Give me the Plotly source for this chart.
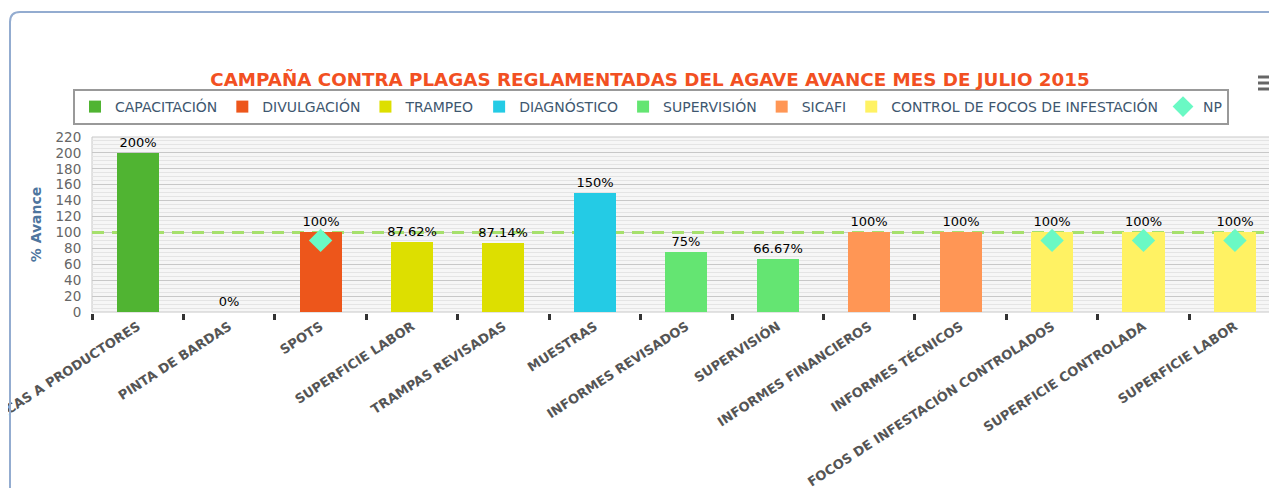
import plotly.graph_objects as go

categories = [
    "PLATICAS A PRODUCTORES", "PINTA DE BARDAS", "SPOTS", "SUPERFICIE LABOR",
    "TRAMPAS REVISADAS", "MUESTRAS", "INFORMES REVISADOS", "SUPERVISIÓN",
    "INFORMES FINANCIEROS", "INFORMES TÉCNICOS", "FOCOS DE INFESTACIÓN CONTROLADOS",
    "SUPERFICIE CONTROLADA", "SUPERFICIE LABOR",
]
values = [200, 0, 100, 87.62, 87.14, 150, 75, 66.67, 100, 100, 100, 100, 100]
groups = [
    "CAPACITACIÓN", "DIVULGACIÓN", "DIVULGACIÓN", "TRAMPEO", "TRAMPEO",
    "DIAGNÓSTICO", "SUPERVISIÓN", "SUPERVISIÓN", "SICAFI", "SICAFI",
    "CONTROL DE FOCOS DE INFESTACIÓN", "CONTROL DE FOCOS DE INFESTACIÓN",
    "CONTROL DE FOCOS DE INFESTACIÓN",
]
group_names = ["CAPACITACIÓN", "DIVULGACIÓN", "TRAMPEO", "DIAGNÓSTICO",
               "SUPERVISIÓN", "SICAFI", "CONTROL DE FOCOS DE INFESTACIÓN"]
group_colors = ["#50B432", "#ED561B", "#DDDF00", "#24CBE5", "#64E572", "#FF9655", "#FFF263"]
np_values = [None, None, 90, None, None, None, None, None, None, None, 90, 90, 90]
target = 100
y_ticks = list(range(0, 221, 20))

FONT = "DejaVu Sans, Verdana, sans-serif"
x_range = [-0.5, len(categories) - 0.54]
fig = go.Figure()

# 100% target plot line, drawn beneath bars and their labels
fig.add_trace(go.Scatter(
    x=x_range, y=[target, target], mode="lines", showlegend=False, hoverinfo="skip",
    line=dict(color="#A6E06C", width=3, dash="12px,8px"), zorder=-1,
))

for name, color in zip(group_names, group_colors):
    idx = [i for i, g in enumerate(groups) if g == name]
    fig.add_trace(go.Bar(
        x=idx, y=[values[i] for i in idx], name=name,
        marker=dict(color=color, line=dict(width=0)),
        width=0.46,
        text=[f"{values[i]:g}%" for i in idx],
        textposition="outside", cliponaxis=False, constraintext="none",
        textfont=dict(family=FONT, size=13, color="#000000"),
    ))

np_idx = [i for i, v in enumerate(np_values) if v is not None]
fig.add_trace(go.Scatter(
    x=np_idx, y=[np_values[i] for i in np_idx], name="NP", mode="markers",
    marker=dict(symbol="diamond", size=18, color="#6AF9C4"),
    cliponaxis=False,
))

# page has an 8px body margin: figure = window minus 8px
OFF = 8
W, H = 1277 - OFF, 488 - OFF
# plot area in window pixels
L, R, T, B = 92, 1277, 137, 312
fx = lambda px: (px - L) / (R - L)
fy = lambda py: (B - py) / (B - T)

shapes = [
    dict(type="rect", xref="paper", yref="paper", x0=0, x1=1, y0=0, y1=1,
         line=dict(color="#c8c8c8", width=1), layer="below"),
    dict(type="path", xref="paper", yref="paper",
         path=f"M{fx(10)},{fy(520)} L{fx(10)},{fy(22)} Q{fx(10)},{fy(12)} {fx(20)},{fy(12)} L{fx(1300)},{fy(12)}",
         line=dict(color="#93acd0", width=2)),
]
for py in (77, 83, 89):
    shapes.append(dict(type="line", xref="paper", yref="paper",
                       x0=fx(1258), x1=fx(1277), y0=fy(py), y1=fy(py),
                       line=dict(color="#666666", width=3)))

fig.update_layout(
    width=W, height=H,
    margin=dict(l=L - OFF, r=1277 - R, t=T - OFF, b=488 - B, autoexpand=False),
    paper_bgcolor="white", plot_bgcolor="#f6f6f6",
    barmode="overlay", bargap=0,
    font=dict(family=FONT, color="#666666"),
    title=dict(
        text="<b>CAMPAÑA CONTRA PLAGAS REGLAMENTADAS DEL AGAVE AVANCE MES DE JULIO 2015</b>",
        font=dict(family=FONT, size=18.3, color="#F25022"),
        x=(650 - OFF) / W, xanchor="center", xref="container",
        y=1 - (80 - OFF) / H, yanchor="middle", yref="container",
    ),
    legend=dict(
        orientation="h", x=fx(651), xanchor="center", y=fy(89), yanchor="top",
        bordercolor="#999999", borderwidth=2, bgcolor="white",
        font=dict(family=FONT, size=14, color="#3E576F"),
        itemwidth=30, traceorder="normal",
    ),
    shapes=shapes,
    showlegend=True,
)

fig.update_xaxes(
    range=x_range, tickvals=list(range(len(categories))), ticktext=categories,
    tickangle=-33, showgrid=False, zeroline=False, automargin=False,
    ticklabeloverflow="allow",
    tickfont=dict(family=FONT, size=13, color="#555555", weight="bold"),
    ticks="", showline=True, linecolor="#c0d0e0", linewidth=2,
    minor=dict(tick0=-0.5, dtick=1, ticks="outside", ticklen=6, tickwidth=3,
               tickcolor="#333333", showgrid=False),
)
fig.update_yaxes(
    range=[0, 220], tickvals=y_ticks, showgrid=True, gridcolor="#c8c8c8", gridwidth=1,
    zeroline=False, showline=False, automargin=False,
    ticks="outside", ticklen=7, tickcolor="rgba(0,0,0,0)",
    tickfont=dict(family=FONT, size=13.5, color="#666666"),
    minor=dict(dtick=5, showgrid=True, gridcolor="#e4e4e4", gridwidth=1),
    title=dict(text="% Avance", standoff=10,
               font=dict(family=FONT, size=14, color="#4D759E", weight="bold")),
)

fig.write_html("out.html")
